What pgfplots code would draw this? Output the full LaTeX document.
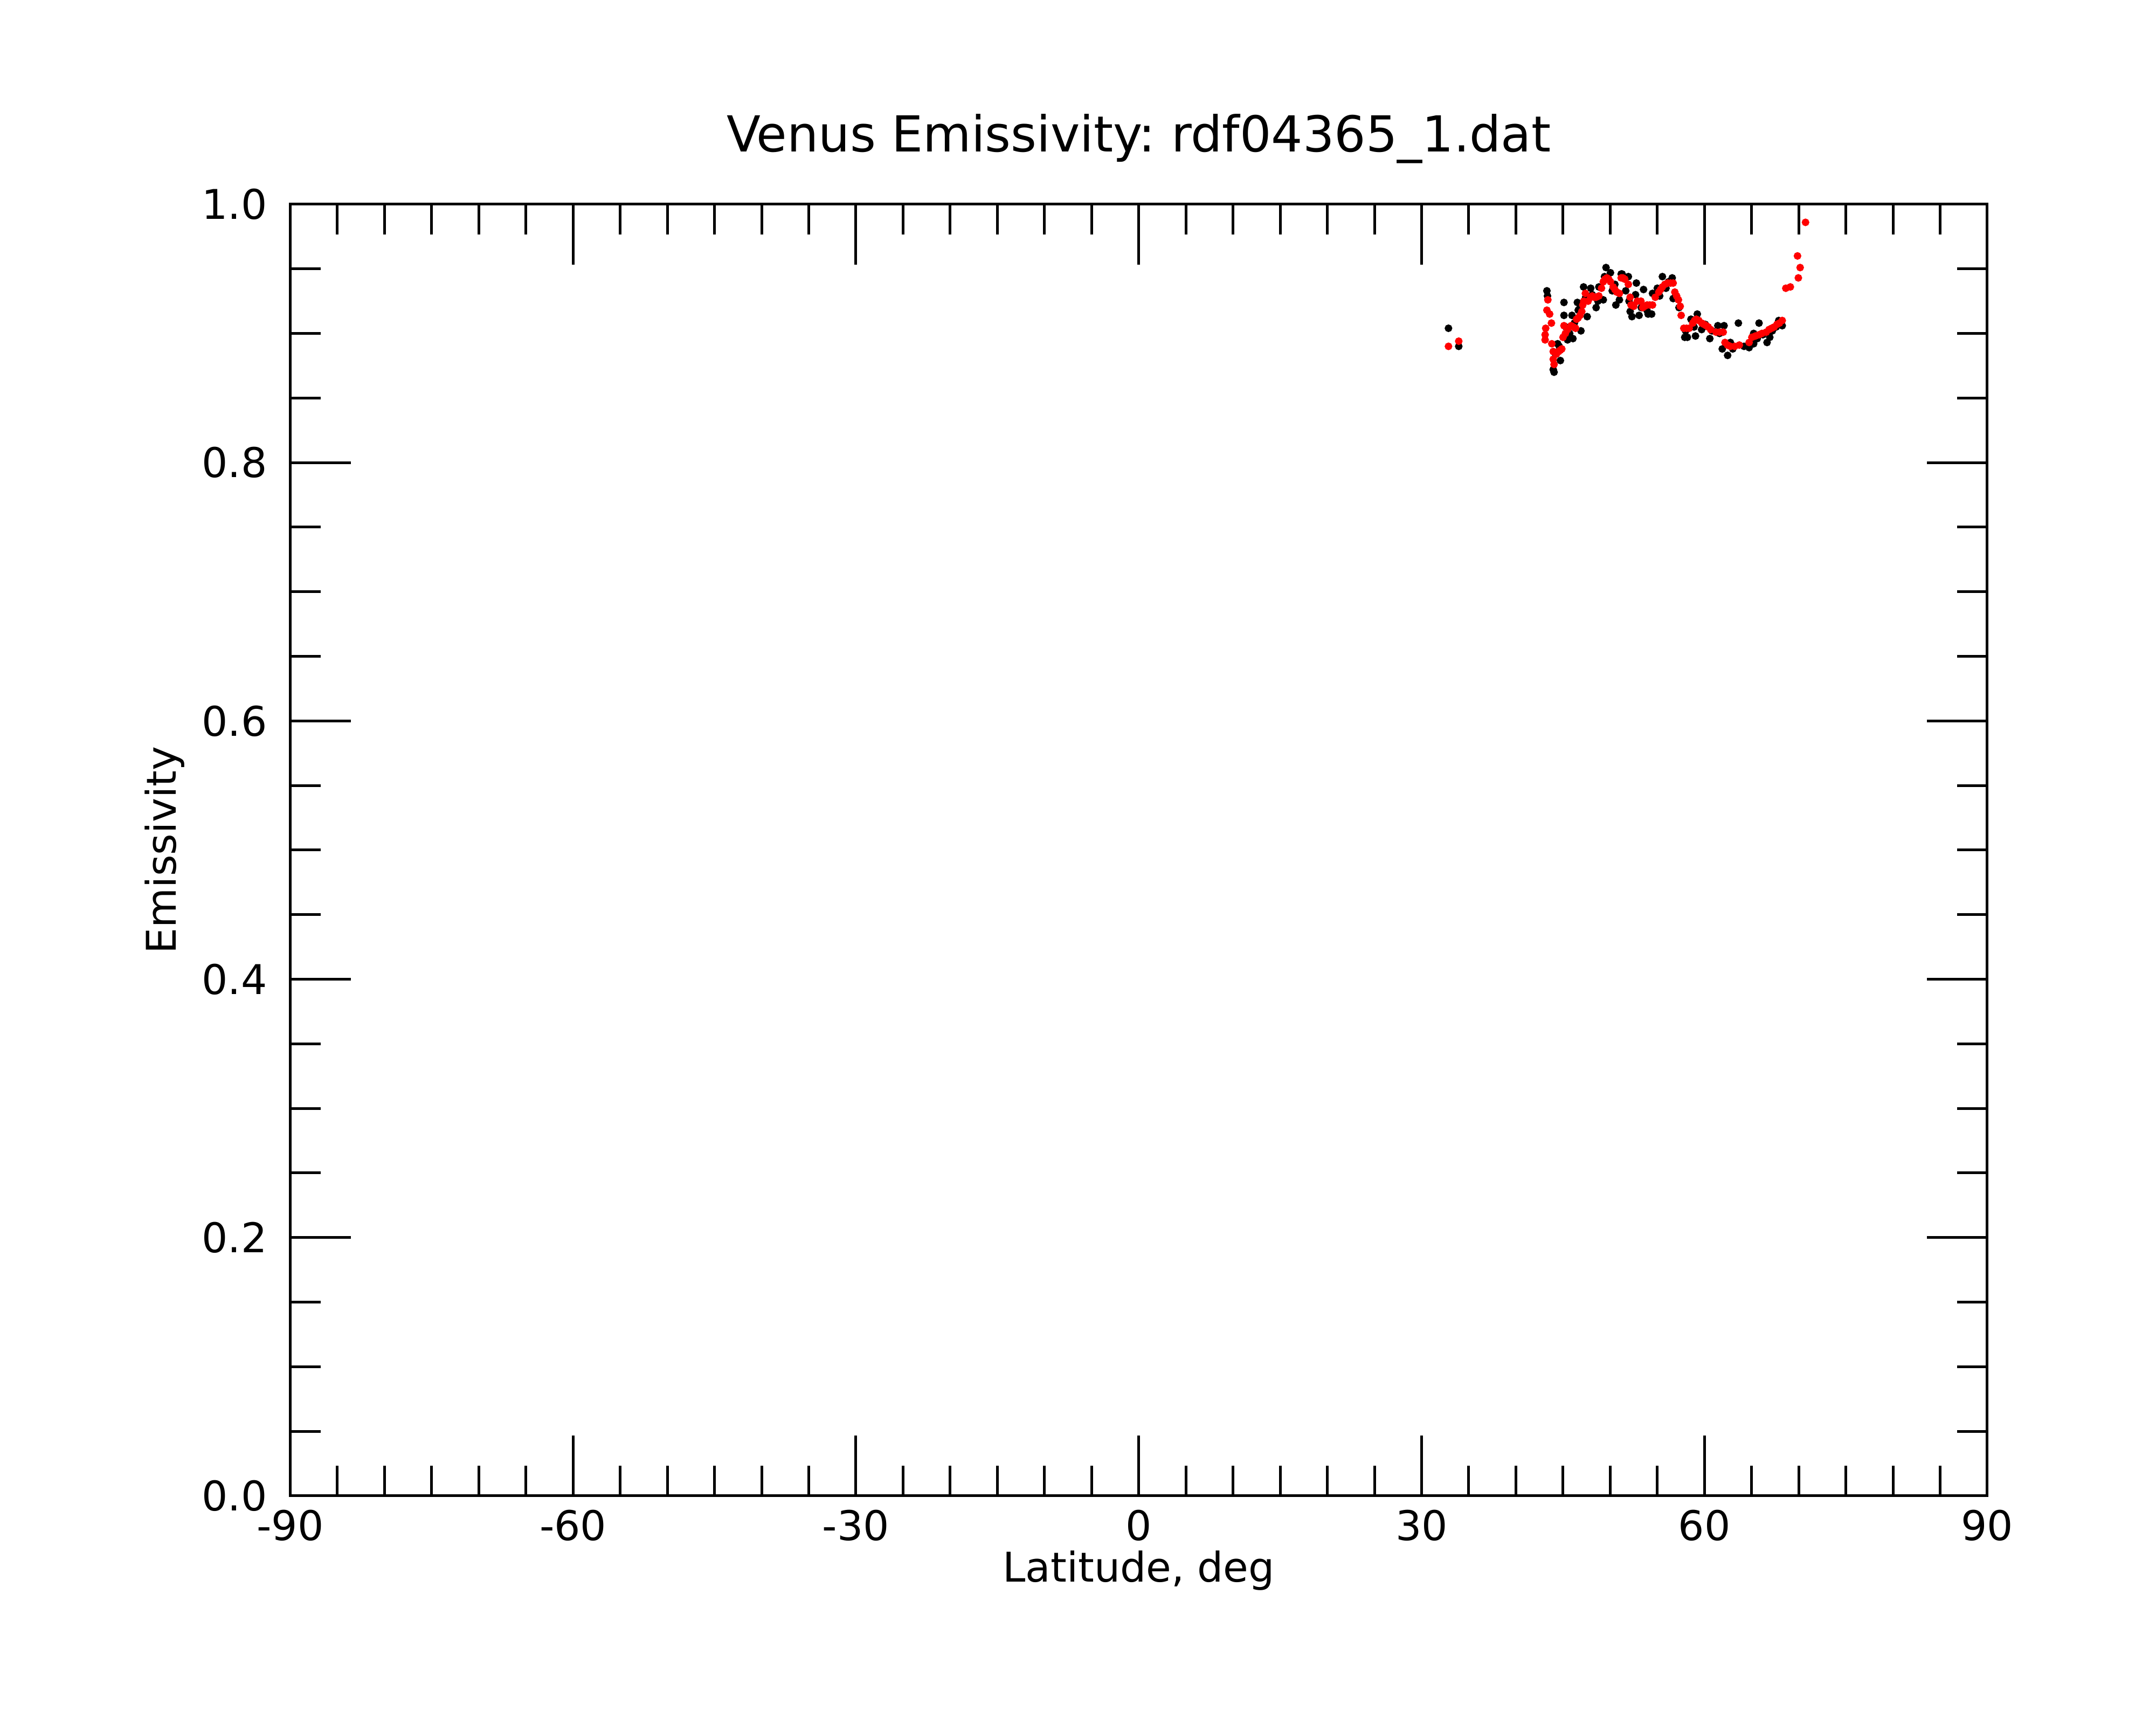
\documentclass[border=0pt]{standalone}
\usepackage{fontspec}
\setmainfont{DejaVu Sans}
\usepackage{pgfplots}
\pgfplotsset{compat=1.18}
\frenchspacing
\begin{document}
\begin{tikzpicture}
\begin{axis}[
  scale only axis,
  width=314.85pt, height=239.6pt,
  xmin=-90, xmax=90, ymin=0, ymax=1,
  xtick={-90,-60,-30,0,30,60,90},
  xticklabels={-90,-60,-30,0,30,60,90},
  minor x tick num=5,
  ytick={0,0.2,0.4,0.6,0.8,1.0},
  yticklabels={0.0,0.2,0.4,0.6,0.8,1.0},
  minor y tick num=3,
  tick align=inside,
  tick pos=both,
  major tick length=11.2pt,
  minor tick length=5.6pt,
  every tick/.style={black, line width=0.5pt},
  axis line style={line width=0.5pt},
  ticklabel style={font=\fontsize{7.6}{9}\selectfont},
  yticklabel style={anchor=east, inner sep=0pt, xshift=-4.1pt},
  xticklabel style={anchor=north, inner sep=0pt, yshift=-2.43pt},
  xlabel={Latitude, deg},
  ylabel={Emissivity},
  xlabel style={font=\fontsize{7.6}{9}\selectfont, at={([yshift=-16pt]axis description cs:0.5,0)}, anchor=base, inner sep=0pt},
  ylabel style={font=\fontsize{7.6}{9}\selectfont, at={([xshift=-21.25pt]axis description cs:0,0.5)}, anchor=base, inner sep=0pt},
  title={Venus Emissivity: rdf04365\_1.dat},
  title style={font=\fontsize{9.2}{11}\selectfont, at={(axis description cs:0.5,1)}, anchor=base, yshift=3.73pt, inner sep=0pt},
]
\addplot[only marks, mark=*, mark size=0.5pt, black] coordinates {
(32.85,0.904) (33.94,0.890)
(43.29,0.933) (43.35,0.929) (44.05,0.870) (43.96,0.872) (44.43,0.892) (44.72,0.879)
(45.10,0.924) (45.10,0.914) (45.48,0.895) (46.05,0.896) (45.95,0.914) (46.52,0.924)
(46.61,0.918) (46.90,0.902) (47.18,0.936) (47.56,0.913) (47.94,0.935) (48.51,0.920)
(48.80,0.936) (49.27,0.926) (49.56,0.951) (50.03,0.947) (50.22,0.933) (50.60,0.922)
(50.98,0.926) (51.27,0.946) (51.93,0.944) (51.65,0.933) (52.78,0.939) (52.31,0.913)
(52.12,0.917) (51.17,0.946) (53.54,0.934) (53.07,0.914) (52.69,0.930) (54.02,0.915)
(54.40,0.915) (54.49,0.931) (55.25,0.929) (55.54,0.944) (55.92,0.935) (56.58,0.943)
(56.68,0.927) (57.91,0.897) (58.19,0.897) (59.05,0.898) (59.24,0.915) (58.57,0.911)
(60.09,0.907) (60.57,0.896) (61.42,0.906) (62.08,0.906) (61.89,0.888) (62.46,0.883)
(62.75,0.893) (63.60,0.908) (64.74,0.889) (65.22,0.892) (65.79,0.908) (66.64,0.893)
(66.93,0.897) (67.88,0.910) (68.25,0.906) (65.22,0.900)
(44.20,0.884) (44.60,0.890) (45.30,0.905) (45.70,0.900) (46.20,0.908) (46.80,0.920)
(47.40,0.928) (48.10,0.930) (48.70,0.925) (49.40,0.944) (50.50,0.938) (52.00,0.925)
(53.30,0.920) (53.90,0.918) (55.00,0.935) (56.20,0.940) (57.30,0.920) (58.00,0.902)
(58.90,0.905) (59.70,0.903) (60.80,0.902) (61.60,0.900) (63.00,0.888) (64.20,0.890)
(65.60,0.896) (66.20,0.899) (67.20,0.902) (67.60,0.905)
};
\addplot[only marks, mark=*, mark size=0.5pt, red] coordinates {
(32.85,0.890) (33.94,0.894)
(43.39,0.926) (43.29,0.918) (43.58,0.915) (43.77,0.908) (43.16,0.904) (43.10,0.899)
(43.10,0.895) (43.81,0.892) (43.96,0.886) (43.96,0.880) (44.05,0.876) (44.53,0.886)
(44.87,0.888) (45.00,0.897) (45.10,0.906) (45.48,0.903) (45.86,0.906) (46.33,0.904)
(46.43,0.911) (46.80,0.914) (46.99,0.917) (47.09,0.922) (47.37,0.931) (47.66,0.925)
(47.94,0.928) (48.32,0.928) (48.80,0.929) (49.08,0.935) (49.27,0.940) (49.65,0.943)
(50.03,0.940) (50.32,0.936) (50.70,0.932) (50.98,0.931) (51.17,0.943) (51.55,0.942)
(51.93,0.938) (52.12,0.928) (52.31,0.922) (52.21,0.922) (52.50,0.921) (52.88,0.925)
(53.26,0.925) (53.45,0.920) (53.92,0.922) (54.49,0.922) (54.78,0.928) (55.16,0.932)
(55.54,0.936) (56.11,0.939) (56.68,0.939) (56.86,0.932) (57.24,0.926) (57.43,0.921)
(57.53,0.914) (57.81,0.904) (58.38,0.904) (58.76,0.908) (59.14,0.911) (59.71,0.908)
(60.19,0.906) (60.66,0.903) (61.23,0.901) (61.99,0.901) (62.18,0.893) (62.75,0.890)
(63.70,0.891) (64.74,0.893) (65.03,0.897) (65.79,0.899) (66.55,0.901) (67.12,0.904)
(67.69,0.907) (68.25,0.910) (68.63,0.935) (69.11,0.936) (69.96,0.943) (70.15,0.951)
(69.87,0.960) (70.72,0.986)
(44.30,0.884) (44.70,0.887) (45.25,0.900) (46.10,0.905) (46.60,0.912) (47.20,0.925)
(48.10,0.929) (48.50,0.928) (49.45,0.942) (49.85,0.942) (50.50,0.934) (51.35,0.943)
(53.65,0.921) (54.20,0.922) (55.35,0.934) (55.80,0.938) (56.40,0.939) (57.05,0.929)
(58.10,0.904) (58.95,0.910) (59.40,0.910) (59.95,0.907) (60.40,0.905) (61.60,0.901)
(62.45,0.891) (63.20,0.890) (65.40,0.898) (66.10,0.900) (66.85,0.903) (67.40,0.905)
(67.95,0.908)
};
\end{axis}
\pgfresetboundingbox
\useasboundingbox ([shift={(-53.85pt,-42.5pt)}]current axis.south west) rectangle ([shift={(31.3pt,37.9pt)}]current axis.north east);
\end{tikzpicture}
\end{document}
